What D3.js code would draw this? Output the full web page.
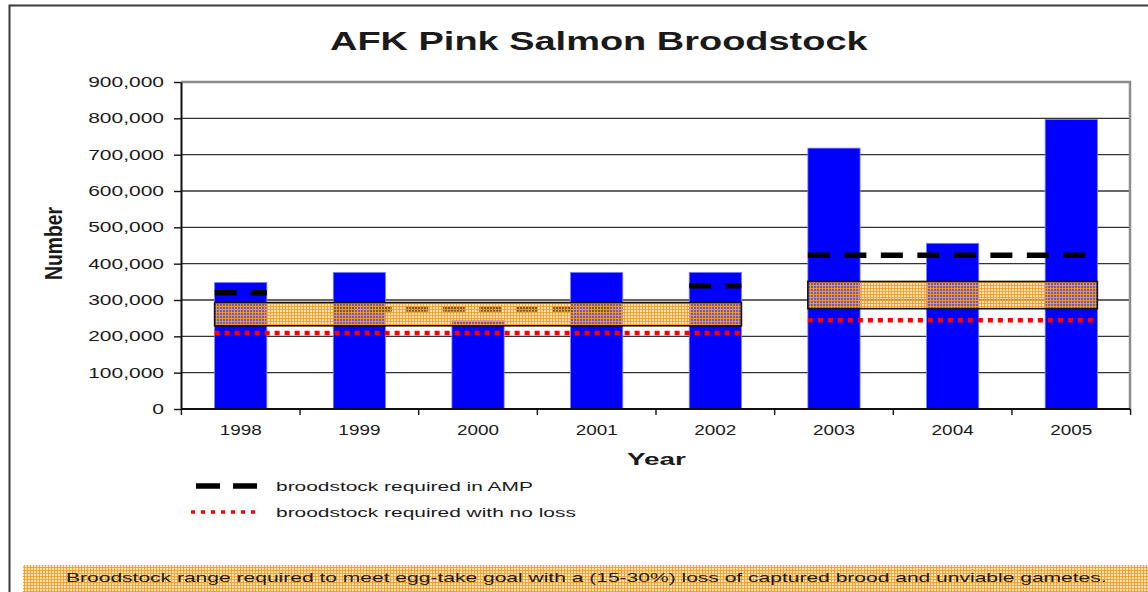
<!DOCTYPE html>
<html>
<head>
<meta charset="utf-8">
<script src="https://cdn.jsdelivr.net/npm/d3@7"></script>
<style>
	body { margin: 0; background: #fff; }
	text { font-family: 'Liberation Sans', Arial, sans-serif; fill: #1a1a1a; }
</style>
</head>
<body>
<div id="chart"></div>
<script>
// values
var years = ['1998', '1999', '2000', '2001', '2002', '2003', '2004', '2005'];
var broodstock = [348000, 376000, 243000, 376000, 376000, 718000, 456000, 797000];

// broodstock required in AMP (dashed), one entry per run of years
var ampFrom = ['1998', '1999', '2002', '2003'];
var ampTo = ['1998', '2001', '2002', '2005'];
var ampValue = [320000, 275000, 339000, 423000];

// broodstock required with no loss (dotted) and the 15-30% loss range (box)
var rangeFrom = ['1998', '2003'];
var rangeTo = ['2002', '2005'];
var noLossValue = [209000, 244000];
var rangeLow = [229000, 276000];
var rangeHigh = [293000, 351000];

var yTicks = [0, 100000, 200000, 300000, 400000, 500000, 600000, 700000, 800000, 900000];

var width = 1148;
var height = 592;
var margin = { 'top': 82, 'bottom': 183, 'left': 181, 'right': 18 };

var svg = d3.select('#chart').append('svg')
	.attr('width', width)
	.attr('height', height);

// orange check used for the loss range and the note strip
var pat = svg.append('defs').append('pattern')
	.attr('id', 'check')
	.attr('width', 3).attr('height', 3)
	.attr('patternUnits', 'userSpaceOnUse');
pat.append('rect').attr('width', 3).attr('height', 3).attr('fill', 'rgba(255,195,100,0.45)');
pat.append('path').attr('d', 'M0,0.5H3M0.5,0V3').attr('stroke', '#f59d28').attr('stroke-opacity', 0.9).attr('stroke-width', 1);

// the picture's text is stretched sideways, so fit each string to its width
function stretchText(str, x, y, size, weight, w) {
	var t = svg.append('text')
		.attr('font-size', size)
		.attr('font-weight', weight)
		.text(str);
	var s = w / t.node().getComputedTextLength();
	t.attr('transform', 'translate(' + x + ',' + y + ') scale(' + s + ',1)');
	return t;
}

// outer frame
svg.append('path')
	.attr('d', 'M9.5,592V5.5H1148')
	.attr('fill', 'none').attr('stroke', '#3a3a3a').attr('stroke-width', 2);

// scales
var x = d3.scaleBand()
	.domain(years)
	.range([margin.left + 1, width - margin.right])
	.paddingInner(0.56)
	.paddingOuter(0.275);
var y = d3.scaleLinear()
	.domain([0, 900000])
	.range([height - margin.bottom, margin.top]);

var plotRight = width - margin.right;

// gridlines
svg.append('g').selectAll('line')
	.data(yTicks.filter(function(d) { return d > 0 && d < 900000; }))
	.enter().append('line')
	.attr('x1', margin.left).attr('x2', plotRight)
	.attr('y1', function(d) { return y(d); }).attr('y2', function(d) { return y(d); })
	.attr('stroke', '#333').attr('stroke-width', 1.4);

// plot border, top and right
svg.append('path')
	.attr('d', 'M' + margin.left + ',' + y(900000) + 'H' + plotRight + 'V' + y(0))
	.attr('fill', 'none').attr('stroke', '#8c8c8c').attr('stroke-width', 2.5);

// bars
svg.append('g').selectAll('rect')
	.data(years)
	.enter().append('rect')
	.attr('x', function(d) { return x(d); })
	.attr('width', x.bandwidth())
	.attr('y', function(d, i) { return y(broodstock[i]); })
	.attr('height', function(d, i) { return y(0) - y(broodstock[i]); })
	.attr('fill', '#0000ff')
	.attr('stroke', '#7d7dff').attr('stroke-width', 0.8);

// AMP requirement, dashed black (under the range box)
svg.append('g').selectAll('line')
	.data(ampValue)
	.enter().append('line')
	.attr('x1', function(d, i) { return x(ampFrom[i]); })
	.attr('x2', function(d, i) { return x(ampTo[i]) + x.bandwidth(); })
	.attr('y1', function(d) { return y(d); }).attr('y2', function(d) { return y(d); })
	.attr('stroke', '#000').attr('stroke-width', 5.5)
	.attr('stroke-dasharray', '22,14.5');

// loss range box
svg.append('g').selectAll('rect')
	.data(rangeLow)
	.enter().append('rect')
	.attr('x', function(d, i) { return x(rangeFrom[i]); })
	.attr('width', function(d, i) { return x(rangeTo[i]) + x.bandwidth() - x(rangeFrom[i]); })
	.attr('y', function(d, i) { return y(rangeHigh[i]); })
	.attr('height', function(d, i) { return y(d) - y(rangeHigh[i]); })
	.attr('fill', 'url(#check)')
	.attr('stroke', '#111').attr('stroke-width', 1.6);

// no loss requirement, dotted red
svg.append('g').selectAll('line')
	.data(noLossValue)
	.enter().append('line')
	.attr('x1', function(d, i) { return x(rangeFrom[i]); })
	.attr('x2', function(d, i) { return x(rangeTo[i]) + x.bandwidth(); })
	.attr('y1', function(d) { return y(d); }).attr('y2', function(d) { return y(d); })
	.attr('stroke', '#ff0000').attr('stroke-width', 4.5)
	.attr('stroke-dasharray', '5,5');

// y axis
var yAxisCall = d3.axisLeft(y)
	.tickValues(yTicks)
	.tickFormat(d3.format(','))
	.tickSize(7)
	.tickSizeOuter(0);
var yAxis = svg.append('g')
	.attr('transform', 'translate(' + margin.left + ',0)')
	.call(yAxisCall);
yAxis.select('.domain').attr('stroke', '#111').attr('stroke-width', 2);
yAxis.selectAll('.tick line').attr('stroke', '#111').attr('stroke-width', 1.4);
yAxis.selectAll('.tick text')
	.attr('font-size', 14)
	.attr('font-family', "'Liberation Sans', Arial, sans-serif")
	.attr('fill', '#222')
	.attr('x', -17 / 1.5)
	.attr('transform', 'scale(1.5,1)');

// x axis, ticks between the years
var xAxis = svg.append('g');
xAxis.append('line')
	.attr('x1', margin.left).attr('x2', plotRight)
	.attr('y1', y(0)).attr('y2', y(0))
	.attr('stroke', '#111').attr('stroke-width', 2);
var gap = (x.step() - x.bandwidth()) / 2;
xAxis.selectAll('.xt')
	.data(years.concat(['end']))
	.enter().append('line')
	.attr('x1', function(d, i) { return x(years[0]) - gap + i * x.step(); })
	.attr('x2', function(d, i) { return x(years[0]) - gap + i * x.step(); })
	.attr('y1', y(0)).attr('y2', y(0) + 6)
	.attr('stroke', '#111').attr('stroke-width', 1.4);
xAxis.selectAll('text')
	.data(years)
	.enter().append('text')
	.attr('font-size', 14)
	.attr('fill', '#222')
	.attr('text-anchor', 'middle')
	.attr('transform', function(d) { return 'translate(' + (x(d) + x.bandwidth() / 2) + ',' + (y(0) + 26) + ') scale(1.35,1)'; })
	.text(function(d) { return d; });

// titles
stretchText('AFK Pink Salmon Broodstock', 330, 50, 25, 'bold', 538);
stretchText('Year', 627, 465, 17, 'bold', 59);

var num = svg.append('text')
	.attr('font-size', 16)
	.attr('font-weight', 'bold')
	.attr('text-anchor', 'middle')
	.text('Number');
var numLen = num.node().getComputedTextLength();
num.attr('transform', 'translate(62,243.5) rotate(-90) scale(' + (73 / numLen) + ',1.45)');

// legend
var legend = svg.append('g');
legend.append('line')
	.attr('x1', 196).attr('x2', 257).attr('y1', 486).attr('y2', 486)
	.attr('stroke', '#000').attr('stroke-width', 5.5)
	.attr('stroke-dasharray', '24,13');
legend.append('line')
	.attr('x1', 191).attr('x2', 259).attr('y1', 512).attr('y2', 512)
	.attr('stroke', '#ff0000').attr('stroke-width', 3.5)
	.attr('stroke-dasharray', '4,6');
stretchText('broodstock required in AMP', 276, 490.5, 13, 'normal', 257);
stretchText('broodstock required with no loss', 276, 516.5, 13, 'normal', 300);

// note strip
svg.append('rect')
	.attr('x', 23).attr('y', 565)
	.attr('width', width - 23).attr('height', height - 565)
	.attr('fill', 'url(#check)');
stretchText('Broodstock range required to meet egg-take goal with a (15-30%) loss of captured brood and unviable gametes.', 66, 582, 13, 'normal', 1041);
</script>
</body>
</html>
